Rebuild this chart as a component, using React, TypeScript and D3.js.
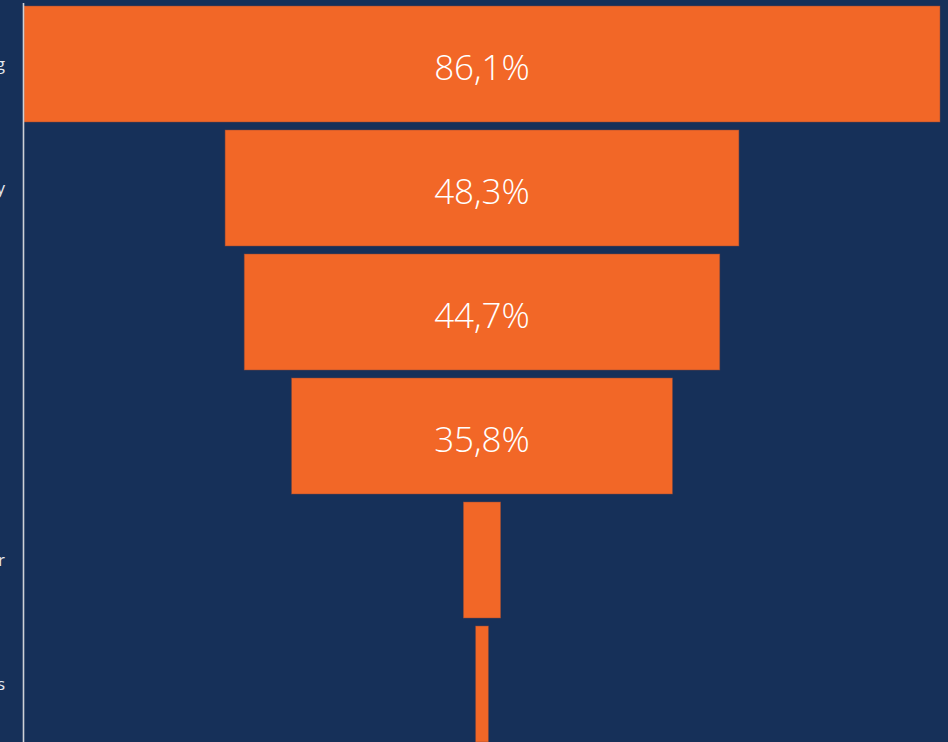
import React from "react";
import * as d3 from "d3";

const categories = ["Landing", "Product Gallery", "Product Page", "Add to Cart", "Checkout Order", "Purchases"];
const values = [86.1, 48.3, 44.7, 35.8, 3.5, 1.2];
const showValue = [true, true, true, true, false, false];
const labelEndX = [5, 5, -3, -3, 5, 5];

const W = 948;
const H = 742;
const BG = "#163059";
const ORANGE = "#F26727";

const fmt = (v: number) => d3.format(".1f")(v).replace(".", ",") + "%";

export default function App() {
  const cx = 482;
  const x = d3.scaleLinear().domain([0, d3.max(values) as number]).range([0, 916]);
  const y = d3
    .scaleBand<string>()
    .domain(categories)
    .range([-2, 750])
    .paddingInner(8 / 124)
    .paddingOuter(8 / 124);

  return (
    <svg
      width={W}
      height={H}
      style={{ position: "absolute", left: 0, top: 0, display: "block", background: BG }}
    >
      <rect x={0} y={0} width={W} height={H} fill={BG} />
      {categories.map((c, i) => {
        const w = x(values[i]);
        const y0 = y(c) as number;
        const bh = y.bandwidth();
        return (
          <g key={c}>
            <rect
              x={cx - w / 2}
              y={y0}
              width={w}
              height={bh}
              fill={ORANGE}
              stroke="#8a4a3a"
              strokeOpacity={0.6}
              strokeWidth={0.8}
            />
            {showValue[i] && (
              <text
                x={cx}
                y={y0 + bh / 2 + 16}
                textAnchor="middle"
                fill="#ffffff"
                fontFamily="'Open Sans', 'Noto Sans', sans-serif"
                fontWeight={300}
                fontSize={35}
              >
                {fmt(values[i])}
              </text>
            )}
            <text
              x={labelEndX[i]}
              y={y0 + bh / 2 + 6}
              textAnchor="end"
              fill="#e6e9ef"
              fontFamily="'Open Sans', 'Noto Sans', sans-serif"
              fontSize={17}
            >
              {c}
            </text>
          </g>
        );
      })}
      <line x1={23.5} x2={23.5} y1={3} y2={H} stroke="#cdd0d6" strokeWidth={1.6} />
    </svg>
  );
}
